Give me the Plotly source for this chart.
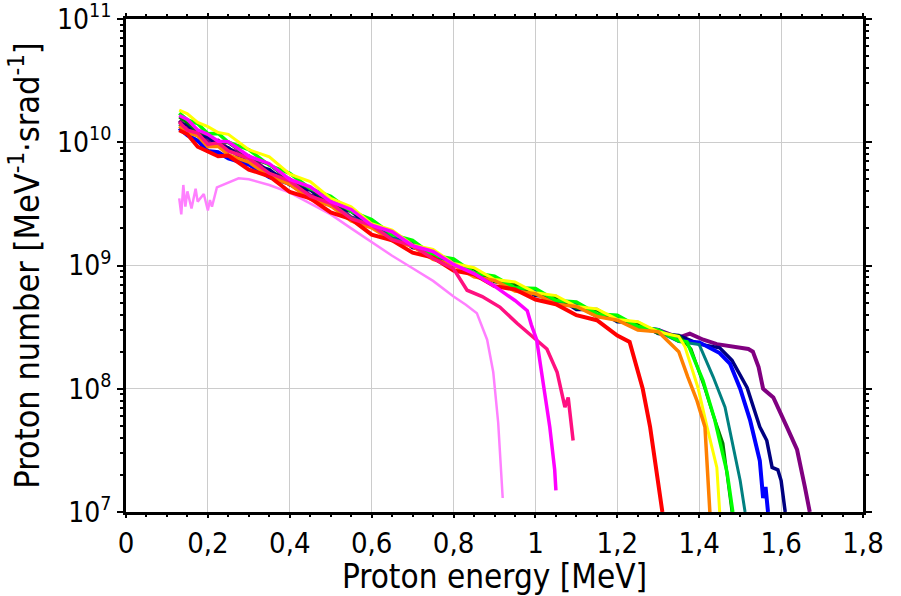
import plotly.graph_objects as go

UNIT = 1e8  # values below are in units of 1e8 MeV^-1 srad^-1

# shared energy grid for the common part of the spectra [MeV]
E = [0.13, 0.15, 0.175, 0.2, 0.225, 0.25, 0.3, 0.35, 0.4, 0.45, 0.5, 0.55, 0.6, 0.65,
     0.7, 0.75, 0.8, 0.85, 0.9, 0.95, 1.0, 1.05, 1.1, 1.15, 1.2, 1.25, 1.3, 1.35, 1.4,
     1.45, 1.5]

purple_main = [150, 130, 124, 101, 103, 88, 77, 57, 50, 37, 33.5, 24.5, 22, 16.6, 15.3, 11.6,
               10.8, 8.4, 7.9, 6.4, 6.2, 5.0, 4.9, 3.9, 3.75, 3.1, 3.0]
purple_tail_x = [1.35, 1.377, 1.41, 1.443, 1.49, 1.52, 1.531, 1.545, 1.556, 1.581, 1.614, 1.639, 1.658, 1.67]
purple_tail_y = [2.6, 2.8, 2.5, 2.3, 2.2, 2.1, 2.0, 1.5, 1.0, 0.85, 0.49, 0.32, 0.16, 0.1]

navy_main = [140, 140, 114, 110, 95, 90, 67, 60, 45, 41, 30.5, 27.5, 20.5, 18.3, 14.0, 12.9,
             10.0, 9.4, 7.4, 7.0, 5.7, 5.6, 4.4, 4.4, 3.5, 3.45, 2.8, 2.7, 2.3, 2.15]
navy_tail_x = [1.48, 1.517, 1.548, 1.565, 1.578, 1.592, 1.6, 1.61]
navy_tail_y = [1.7, 1.02, 0.49, 0.38, 0.23, 0.22, 0.18, 0.1]

blue_main = [130, 114, 103, 85, 83, 74, 66, 52, 46, 35.5, 31, 24, 21.3, 16.4, 15.0, 11.9, 10.8,
             8.5, 8.0, 6.5, 6.2, 5.1, 4.9, 3.95, 3.85, 3.15, 3.0, 2.45, 2.38, 1.95]
blue_tail_x = [1.475, 1.5, 1.524, 1.548, 1.556, 1.562, 1.568]
blue_tail_y = [1.6, 1.0, 0.56, 0.26, 0.13, 0.16, 0.1]

teal_main = [140, 124, 117, 97, 98, 85, 74, 56, 48, 36.5, 32, 24.5, 21.2, 16.6, 14.7, 11.6, 10.5,
             8.4, 7.8, 6.35, 6.0, 4.9, 4.75, 3.85, 3.7, 3.05, 2.9, 2.42, 2.28]
teal_tail_x = [1.434, 1.463, 1.483, 1.5, 1.512]
teal_tail_y = [1.25, 0.71, 0.34, 0.18, 0.1]

dgreen_main = [160, 144, 122, 115, 101, 99, 76, 66, 49, 42.5, 32, 28, 21.2, 18.6, 14.7, 12.9, 10.2,
               9.4, 7.4, 7.1, 5.8, 5.5, 4.5, 4.35, 3.55, 3.4, 2.8, 2.7]
dgreen_tail_x = [1.38, 1.41, 1.435, 1.458, 1.48]
dgreen_tail_y = [2.1, 1.1, 0.6, 0.36, 0.1]

lime_main = [172, 152, 142, 117, 118, 100, 87, 65, 56, 42, 36.5, 27.5, 23.6, 17.8, 16.0, 12.1,
             11.3, 8.7, 8.2, 6.6, 6.5, 5.2, 5.05, 4.05, 3.95, 3.2, 3.0, 2.45]
lime_tail_x = [1.37, 1.385, 1.409, 1.438, 1.468, 1.482]
lime_tail_y = [2.4, 1.8, 1.17, 0.56, 0.21, 0.1]

yellow_main = [182, 170, 145, 134, 120, 116, 87, 76, 55, 48, 35, 30, 21.8, 19.4, 14.7, 13.5,
               10.4, 9.6, 7.7, 7.35, 6.0, 5.7, 4.65, 4.45, 3.65, 3.5, 2.9, 2.65]
yellow_tail_x = [1.365, 1.397, 1.419, 1.443, 1.45]
yellow_tail_y = [2.2, 1.02, 0.49, 0.23, 0.1]

orange_main = [135, 120, 113, 92, 93, 79, 69, 53, 45.5, 34.5, 30.5, 23, 20.2, 15.9, 14.3, 11.2,
               10.1, 8.1, 7.55, 6.2, 5.9, 4.85, 4.65, 3.85, 3.6, 3.0, 2.9]
orange_tail_x = [1.35, 1.372, 1.394, 1.414, 1.426]
orange_tail_y = [2.0, 1.25, 0.81, 0.49, 0.1]

red_main = [125, 116, 92, 85, 77, 78, 60, 53, 39.5, 35, 27, 23.8, 17.8, 16.0, 12.7, 11.6, 9.1,
            8.5, 6.8, 6.4, 5.3, 4.85, 3.95, 3.6, 2.7]
red_tail_x = [1.23, 1.248, 1.262, 1.28, 1.30, 1.31]
red_tail_y = [2.4, 1.5, 1.0, 0.49, 0.18, 0.1]

dpink_main = [145, 125, 119, 96, 99, 85, 74, 56, 48.5, 36.5, 32, 24, 21.2, 16.2, 14.5, 11.4, 9.4]
dpink_tail_x = [0.833, 0.87, 0.913, 0.955, 0.994, 1.028, 1.053, 1.072, 1.08, 1.092]
dpink_tail_y = [6.3, 5.6, 4.6, 3.4, 2.6, 2.1, 1.36, 0.71, 0.85, 0.38]

magenta_main = [165, 153, 126, 116, 102, 101, 77, 67, 50, 43.5, 33, 28.5, 21.2, 18.8, 14.5, 13.0,
                10.2, 8.6]
magenta_tail_x = [0.9, 0.95, 0.98, 0.99, 1.003, 1.018, 1.035, 1.047, 1.05]
magenta_tail_y = [6.8, 5.2, 4.3, 3.3, 2.5, 1.2, 0.49, 0.22, 0.15]

lpink_x = [0.13, 0.135, 0.14, 0.145, 0.15, 0.16, 0.17, 0.175, 0.19, 0.2, 0.205, 0.21, 0.222,
           0.25, 0.275, 0.3, 0.35, 0.4, 0.45, 0.5, 0.55, 0.6, 0.65, 0.7, 0.75, 0.8, 0.83,
           0.857, 0.882, 0.897, 0.909, 0.92]
lpink_y = [35, 26, 45, 30, 40, 29, 42, 33, 38, 28, 34, 30, 43, 47, 51, 50, 45, 39, 32, 26, 20,
           15.5, 12, 9.5, 7.5, 5.6, 4.8, 4.1, 2.5, 1.36, 0.53, 0.13]

x_tick_vals = [0, 0.2, 0.4, 0.6, 0.8, 1.0, 1.2, 1.4, 1.6, 1.8]
x_tick_text = ["0", "0,2", "0,4", "0,6", "0,8", "1", "1,2", "1,4", "1,6", "1,8"]
y_tick_vals = [1e7, 1e8, 1e9, 1e10, 1e11]
y_tick_text = ["10<sup>7</sup>", "10<sup>8</sup>", "10<sup>9</sup>", "10<sup>10</sup>", "10<sup>11</sup>"]
y_minor_vals = [m * 10 ** k for k in range(7, 11) for m in (2, 3, 4, 5, 6, 7, 8, 9)]

series = [
    ("purple", "#800080", purple_main, purple_tail_x, purple_tail_y, 4),
    ("navy", "#000080", navy_main, navy_tail_x, navy_tail_y, 3.5),
    ("blue", "#0000FF", blue_main, blue_tail_x, blue_tail_y, 4),
    ("teal", "#008080", teal_main, teal_tail_x, teal_tail_y, 3),
    ("dgreen", "#008000", dgreen_main, dgreen_tail_x, dgreen_tail_y, 3),
    ("lime", "#00FF00", lime_main, lime_tail_x, lime_tail_y, 3.5),
    ("yellow", "#FFFF00", yellow_main, yellow_tail_x, yellow_tail_y, 3),
    ("orange", "#FF8000", orange_main, orange_tail_x, orange_tail_y, 3.5),
    ("red", "#FF0000", red_main, red_tail_x, red_tail_y, 4),
    ("dpink", "#FF1080", dpink_main, dpink_tail_x, dpink_tail_y, 3.5),
    ("magenta", "#FF00FF", magenta_main, magenta_tail_x, magenta_tail_y, 3.5),
]

FONT = "DejaVu Sans Condensed, Liberation Sans Narrow, DejaVu Sans"

fig = go.Figure()
fig.add_trace(go.Scatter(x=lpink_x, y=[v * UNIT for v in lpink_y], mode="lines",
                         line=dict(color="#FF80FF", width=2.5), showlegend=False))
for name, color, main, tx, ty, w in series:
    xs = E[:len(main)] + tx
    ys = [v * UNIT for v in main + ty]
    fig.add_trace(go.Scatter(x=xs, y=ys, mode="lines", name=name,
                             line=dict(color=color, width=w), showlegend=False))

axis_common = dict(showline=True, linecolor="black", linewidth=3, mirror="allticks",
                   ticks="outside", tickcolor="black", tickwidth=2,
                   showgrid=True, gridcolor="#CCCCCC", gridwidth=1, zeroline=False,
                   ticklabeloverflow="allow", automargin=False)

fig.update_xaxes(range=[0, 1.8], tickmode="array", tickvals=x_tick_vals, ticktext=x_tick_text,
                 ticklen=3, tickfont=dict(family=FONT, size=29, color="black"),
                 title=dict(text="Proton energy [MeV]", font=dict(family=FONT, size=33, color="black"),
                            standoff=2),
                 minor=dict(dtick=0.05, ticks="outside", ticklen=2, tickwidth=2, tickcolor="black",
                            showgrid=False),
                 **axis_common)
fig.update_yaxes(type="log", range=[7, 11], tickmode="array", tickvals=y_tick_vals,
                 ticktext=y_tick_text, ticklen=6,
                 tickfont=dict(family=FONT, size=28, color="black"),
                 title=dict(text="Proton number [MeV<sup>-1</sup>·srad<sup>-1</sup>]",
                            font=dict(family=FONT, size=34, color="black"), standoff=8),
                 minor=dict(tickmode="array", tickvals=y_minor_vals, ticks="outside", ticklen=3,
                            tickwidth=2, tickcolor="black", showgrid=False),
                 **axis_common)

fig.update_layout(width=901, height=596, margin=dict(l=126, r=38, t=19, b=84),
                  plot_bgcolor="white", paper_bgcolor="white")

fig.write_html("out.html")
